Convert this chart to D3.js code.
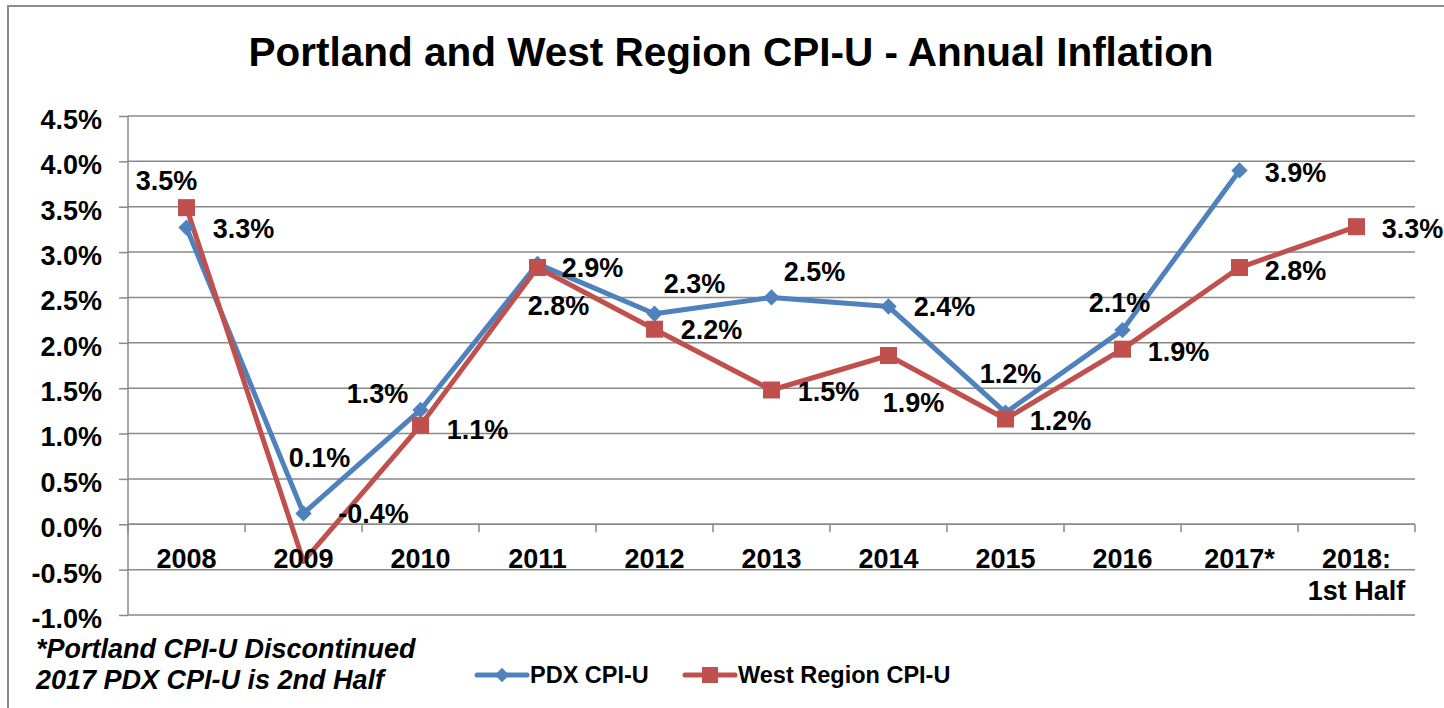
<!DOCTYPE html>
<html>
<head>
<meta charset="utf-8">
<script src="https://cdn.jsdelivr.net/npm/d3@7"></script>
<style>
  html, body { margin: 0; padding: 0; background: #fff; }
  svg { display: block; font-family: "Liberation Sans", Arial, sans-serif; }
</style>
</head>
<body>
<svg id="chart"></svg>
<script>
const years = ["2008", "2009", "2010", "2011", "2012", "2013", "2014", "2015", "2016", "2017*", "2018:\n1st Half"];
const pdx = [3.27, 0.12, 1.26, 2.87, 2.32, 2.50, 2.40, 1.23, 2.14, 3.90, null];
const west = [3.49, -0.41, 1.09, 2.83, 2.15, 1.48, 1.86, 1.16, 1.93, 2.83, 3.28];
const pdxLabels = ["3.3%", "0.1%", "1.3%", "2.9%", "2.3%", "2.5%", "2.4%", "1.2%", "2.1%", "3.9%", null];
const westLabels = ["3.5%", "-0.4%", "1.1%", "2.8%", "2.2%", "1.5%", "1.9%", "1.2%", "1.9%", "2.8%", "3.3%"];
const yTicks = [-1.0, -0.5, 0, 0.5, 1.0, 1.5, 2.0, 2.5, 3.0, 3.5, 4.0, 4.5];

// label centre offsets from the marker, as Excel left them
const pdxLabelOffsets = [[57, 1], [16, -56], [-43, -17], [55, 3], [40, -31], [43, -26], [56, 0], [5, -39], [-3, -28], [56, 2], null];
const westLabelOffsets = [[-20, -27], [70, -48], [57, 4], [21, 38], [57, 0], [57, 1], [25, 47], [55, 1], [56, 2], [56, 3], [56, 2]];
const westNoMarker = ["2009"];

const width = 1444;
const height = 708;
const blue = "#4f81bd";
const red = "#c0504d";
const grid = "#898989";
const font = "\"Liberation Sans\", Arial, sans-serif";

const svg = d3.select("#chart")
    .attr("width", width)
    .attr("height", height);

// outer chart border
svg.append("rect")
    .attr("x", 8).attr("y", 6)
    .attr("width", width + 20).attr("height", height + 20)
    .attr("fill", "#fff")
    .attr("stroke", "#8c8c8c")
    .attr("stroke-width", 2);

svg.append("text")
    .attr("x", 731).attr("y", 66)
    .attr("text-anchor", "middle")
    .attr("font-size", "40.5px")
    .attr("font-weight", "bold")
    .text("Portland and West Region CPI-U - Annual Inflation");

const x = d3.scaleBand()
    .domain(years)
    .range([128, 1415]);

const y = d3.scaleLinear()
    .domain([-1.0, 4.5])
    .range([615, 116]);

const cx = d => x(d) + x.bandwidth() / 2;
const pct = d => (d < 0 ? "-" : "") + Math.abs(d).toFixed(1) + "%";

// gridlines + y axis
svg.append("g")
    .selectAll("line")
    .data(yTicks)
    .join("line")
    .attr("x1", 128).attr("x2", 1415)
    .attr("y1", d => y(d)).attr("y2", d => y(d))
    .attr("stroke", grid)
    .attr("stroke-width", 1.5);

const yAxis = svg.append("g")
    .attr("transform", "translate(128,0)")
    .call(d3.axisLeft(y)
        .tickValues(yTicks)
        .tickSize(9)
        .tickPadding(17)
        .tickFormat(pct));
yAxis.select(".domain")
    .attr("stroke", grid)
    .attr("stroke-width", 1.5)
    .attr("d", "M0," + y(-1.0) + "V" + y(4.5));
yAxis.selectAll(".tick line")
    .attr("stroke", grid)
    .attr("stroke-width", 1.5);
yAxis.selectAll(".tick text")
    .attr("fill", "#000")
    .attr("font-family", font)
    .attr("font-size", "27px")
    .attr("font-weight", "bold")
    .attr("dy", "0.46em");

// category axis at zero
const xAxis = svg.append("g")
    .attr("transform", "translate(0," + y(0) + ")");
xAxis.append("line")
    .attr("x1", 128).attr("x2", 1415)
    .attr("stroke", grid)
    .attr("stroke-width", 1.5);
xAxis.selectAll("line.tk")
    .data(years.map(d => x(d)).concat([1415]))
    .join("line")
    .attr("class", "tk")
    .attr("x1", d => d).attr("x2", d => d)
    .attr("y1", 0).attr("y2", 8)
    .attr("stroke", grid)
    .attr("stroke-width", 1.5);

// series
const line = d3.line()
    .defined(d => d.v != null)
    .x(d => cx(d.k))
    .y(d => y(d.v));

const pdxPts = years.map((k, i) => ({ k, v: pdx[i], label: pdxLabels[i], off: pdxLabelOffsets[i] }));
const westPts = years.map((k, i) => ({ k, v: west[i], label: westLabels[i], off: westLabelOffsets[i] }));

svg.append("path")
    .datum(pdxPts)
    .attr("fill", "none")
    .attr("stroke", blue)
    .attr("stroke-width", 5)
    .attr("stroke-linejoin", "round")
    .attr("d", line);

svg.append("path")
    .datum(westPts)
    .attr("fill", "none")
    .attr("stroke", red)
    .attr("stroke-width", 5)
    .attr("stroke-linejoin", "round")
    .attr("d", line);

const diamond = d3.symbol().type(d3.symbolDiamond2).size(170);
svg.append("g")
    .selectAll("path")
    .data(pdxPts.filter(d => d.v != null))
    .join("path")
    .attr("d", diamond)
    .attr("transform", d => "translate(" + cx(d.k) + "," + y(d.v) + ")")
    .attr("fill", blue);

svg.append("g")
    .selectAll("rect")
    .data(westPts.filter(d => !westNoMarker.includes(d.k)))
    .join("rect")
    .attr("x", d => cx(d.k) - 8.5)
    .attr("y", d => y(d.v) - 8.5)
    .attr("width", 17)
    .attr("height", 17)
    .attr("fill", red);

// category labels (drawn over the lines, like the original)
svg.append("g")
    .selectAll("text")
    .data(years)
    .join("text")
    .attr("x", d => cx(d))
    .attr("y", 568)
    .attr("text-anchor", "middle")
    .attr("font-size", "27px")
    .attr("font-weight", "bold")
    .each(function (d) {
        d3.select(this).selectAll("tspan")
            .data(d.split("\n"))
            .join("tspan")
            .attr("x", cx(d))
            .attr("dy", (t, i) => i === 0 ? 0 : 32)
            .text(t => t);
    });

// data labels
const labelG = svg.append("g")
    .attr("font-size", "27px")
    .attr("font-weight", "bold")
    .attr("text-anchor", "middle");
labelG.selectAll("text")
    .data(pdxPts.concat(westPts).filter(d => d.label != null))
    .join("text")
    .attr("x", d => cx(d.k) + d.off[0])
    .attr("y", d => y(d.v) + d.off[1])
    .attr("dy", "0.36em")
    .text(d => d.label);

// footnote
svg.append("text")
    .attr("font-size", "27px")
    .attr("font-weight", "bold")
    .attr("font-style", "italic")
    .selectAll("tspan")
    .data(["*Portland CPI-U Discontinued", "2017 PDX CPI-U is 2nd Half"])
    .join("tspan")
    .attr("x", 36)
    .attr("y", (d, i) => 658 + i * 31)
    .text(d => d);

// legend
const legend = [
    { name: "PDX CPI-U", color: blue, shape: "diamond", x: 477 },
    { name: "West Region CPI-U", color: red, shape: "square", x: 685 }
];
const lg = svg.append("g")
    .selectAll("g")
    .data(legend)
    .join("g")
    .attr("transform", d => "translate(" + d.x + ",675)");
lg.append("line")
    .attr("x1", 0).attr("x2", 50)
    .attr("stroke", d => d.color)
    .attr("stroke-width", 5)
    .attr("stroke-linecap", "round");
lg.filter(d => d.shape === "diamond").append("path")
    .attr("d", d3.symbol().type(d3.symbolDiamond2).size(130))
    .attr("transform", "translate(25,0)")
    .attr("fill", blue);
lg.filter(d => d.shape === "square").append("rect")
    .attr("x", 17).attr("y", -8)
    .attr("width", 16).attr("height", 16)
    .attr("fill", red);
lg.append("text")
    .attr("x", 53)
    .attr("dy", "0.36em")
    .attr("font-size", "23.5px")
    .attr("font-weight", "bold")
    .text(d => d.name);
</script>
</body>
</html>
